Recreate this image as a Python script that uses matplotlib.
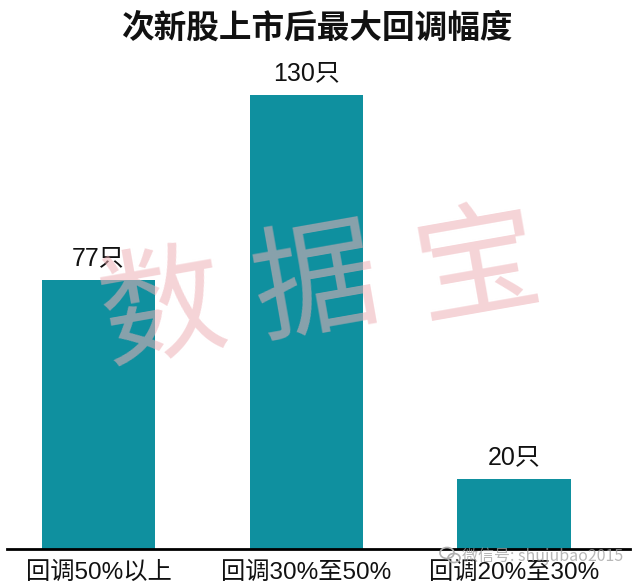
import matplotlib
matplotlib.use("Agg")
import matplotlib.pyplot as plt
from matplotlib.patches import Ellipse

# ---- data ----
categories = ["回调50%以上", "回调30%至50%", "回调20%至30%"]
counts = [77, 130, 20]
value_labels = ["77只", "130只", "20只"]
title = "次新股上市后最大回调幅度"
watermark = ["数", "据", "宝"]
wechat = "微信号: shujubao2015"

BAR = "#0f909f"
num_font = ["Liberation Sans Narrow", "Liberation Sans", "Noto Sans CJK SC"]

fig = plt.figure(figsize=(6.4, 5.88), dpi=100)
fig.patch.set_facecolor("white")

W, H = 640, 588
ax = fig.add_axes([7 / W, (H - 549) / H, 623 / W, (549 - 60) / H])
x = list(range(len(categories)))
ax.bar(x, counts, width=0.545, color=BAR, zorder=2)
ax.set_xlim(-0.441, 2.559)
ax.set_ylim(0, 140)

for xi, v, lab in zip(x, counts, value_labels):
    ax.annotate(lab, (xi, v), xytext=(0, 7), textcoords="offset points",
                ha="center", va="bottom", fontsize=18, family=num_font,
                color="#111111")

for s in ["top", "right", "left"]:
    ax.spines[s].set_visible(False)
ax.spines["bottom"].set_linewidth(2.0)
ax.spines["bottom"].set_color("black")
ax.set_yticks([])
ax.set_xticks(x)
ax.set_xticklabels(categories, fontsize=17.5, family=num_font, color="#111111")
ax.tick_params(axis="x", length=0, pad=9)

fig.text(317 / W, 1 - 28 / H, title, ha="center", va="center",
         fontsize=23.5, fontweight="bold", family=["Noto Sans CJK SC"],
         color="#111111")

# big pink watermark
pos = [(163, 312), (316, 288), (478, 270)]
for ch, (px, py) in zip(watermark, pos):
    fig.text(px / W, 1 - py / H, ch, ha="center", va="center",
             fontsize=90, family=["Noto Sans CJK SC"], fontweight="light",
             color="#eeb0b6", alpha=0.55, rotation=10, zorder=10)

# small wechat watermark
fig.text(462 / W, 1 - 556 / H, wechat, ha="left", va="center",
         fontsize=11.5, family=["Noto Sans CJK SC", "DejaVu Sans"],
         color="#a0a0a0", alpha=0.75, zorder=10)
e1 = Ellipse((447 / W, 1 - 553 / H), 14 / W, 11 / H, transform=fig.transFigure,
             fill=False, ec="#b0b0b0", lw=1.2, zorder=10)
e2 = Ellipse((454 / W, 1 - 558 / H), 12 / W, 9 / H, transform=fig.transFigure,
             fill=False, ec="#b0b0b0", lw=1.2, zorder=10)
fig.add_artist(e1)
fig.add_artist(e2)

fig.savefig("out.png", dpi=100, facecolor="white")
